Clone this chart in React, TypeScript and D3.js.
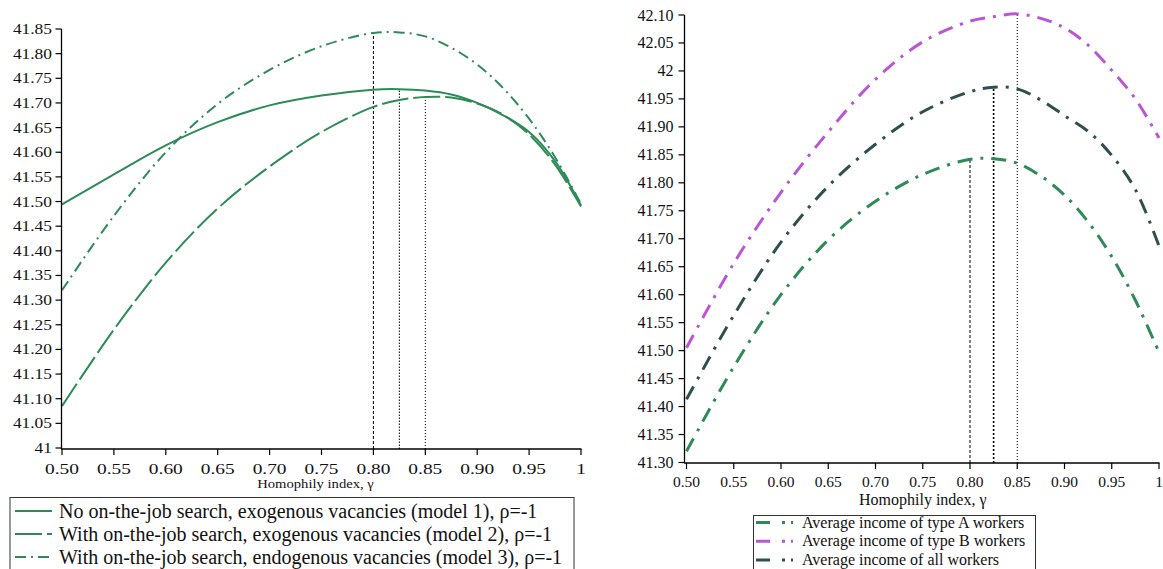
import React from 'react';
import * as d3 from 'd3';

// ---------- data ----------
const gammaGrid = [0.5, 0.55, 0.6, 0.65, 0.7, 0.75, 0.8, 0.825, 0.85, 0.875, 0.9, 0.925, 0.95, 0.975, 1.0];

// Left panel
const model1 = [41.494, 41.555, 41.614, 41.661, 41.695, 41.715, 41.727, 41.728, 41.725, 41.717, 41.700, 41.675, 41.641, 41.582, 41.492];
const model2 = [41.085, 41.240, 41.376, 41.486, 41.571, 41.641, 41.692, 41.706, 41.712, 41.711, 41.699, 41.676, 41.636, 41.575, 41.490];
const model3 = [41.320, 41.471, 41.600, 41.698, 41.767, 41.815, 41.842, 41.843, 41.835, 41.812, 41.778, 41.730, 41.668, 41.590, 41.495];

// Right panel
const incomeA = [41.320, 41.471, 41.600, 41.698, 41.767, 41.815, 41.842, 41.843, 41.835, 41.812, 41.778, 41.730, 41.668, 41.590, 41.497];
const incomeB = [41.505, 41.656, 41.783, 41.891, 41.985, 42.052, 42.089, 42.097, 42.102, 42.094, 42.077, 42.046, 42.001, 41.950, 41.880];
const incomeAll = [41.413, 41.563, 41.694, 41.794, 41.869, 41.927, 41.963, 41.971, 41.968, 41.948, 41.920, 41.892, 41.849, 41.788, 41.687];

const xTicks = [0.5, 0.55, 0.6, 0.65, 0.7, 0.75, 0.8, 0.85, 0.9, 0.95, 1];
const leftYTicks = [41, 41.05, 41.1, 41.15, 41.2, 41.25, 41.3, 41.35, 41.4, 41.45, 41.5, 41.55, 41.6, 41.65, 41.7, 41.75, 41.8, 41.85];
const rightYTicks = [41.3, 41.35, 41.4, 41.45, 41.5, 41.55, 41.6, 41.65, 41.7, 41.75, 41.8, 41.85, 41.9, 41.95, 42, 42.05, 42.1];

const axisTitle = 'Homophily index, \u03b3';
const leftLegend = [
  'No on-the-job search, exogenous vacancies (model 1), \u03c1=-1',
  'With on-the-job search, exogenous vacancies (model 2), \u03c1=-1',
  'With on-the-job search, endogenous vacancies (model 3), \u03c1=-1',
];
const rightLegend = [
  'Average income of type A workers',
  'Average income of type B workers',
  'Average income of all workers',
];

const refGammas = [0.8, 0.825, 0.85];

// ---------- styles ----------
const GREEN = '#2e8b57';
const PURPLE = '#ba55d3';
const DARK = '#2f4f4f';
const FONT = '"Liberation Serif", "Times New Roman", Times, serif';
const TS: React.CSSProperties = { fontFamily: FONT };

const fmt = (v: number) =>
  Math.abs(v - Math.round(v)) < 1e-9 ? String(Math.round(v)) : v.toFixed(2);

const valueAt = (arr: number[], g: number) => {
  const i = gammaGrid.findIndex((x) => Math.abs(x - g) < 1e-9);
  return arr[i];
};

export default function App() {
  // left scales
  const xL = d3.scaleLinear().domain([0.5, 1]).range([62, 581]);
  const yL = d3.scaleLinear().domain([41, 41.85]).range([448, 29]);
  // right scales
  const xR = d3.scaleLinear().domain([0.5, 1]).range([686.5, 1159]);
  const yR = d3.scaleLinear().domain([41.3, 42.1]).range([462.5, 15]);

  const lineL = d3
    .line<number>()
    .x((_, i) => xL(gammaGrid[i]))
    .y((d) => yL(d))
    .curve(d3.curveCatmullRom.alpha(0.5));
  const lineR = d3
    .line<number>()
    .x((_, i) => xR(gammaGrid[i]))
    .y((d) => yR(d))
    .curve(d3.curveCatmullRom.alpha(0.5));

  const leftSeries = [
    { data: model1, dash: undefined as string | undefined },
    { data: model2, dash: '27,5' },
    { data: model3, dash: '11,5,2,5' },
  ];
  const rightSeries = [
    { data: incomeA, color: GREEN },
    { data: incomeB, color: PURPLE },
    { data: incomeAll, color: DARK },
  ];

  const leftRefs = [
    { g: refGammas[0], top: valueAt(model3, refGammas[0]), dash: '3,2', w: 1 },
    { g: refGammas[1], top: valueAt(model1, refGammas[1]), dash: '1.5,1.5', w: 1 },
    { g: refGammas[2], top: valueAt(model2, refGammas[2]), dash: '1,2', w: 1 },
  ];
  const rightRefs = [
    { g: refGammas[0], top: valueAt(incomeA, refGammas[0]), dash: '3,2', w: 1 },
    { g: refGammas[1], top: valueAt(incomeAll, refGammas[1]), dash: '2,2', w: 1.6 },
    { g: refGammas[2], top: valueAt(incomeB, refGammas[2]), dash: '1,2', w: 1 },
  ];

  const LX_AXIS_Y = 449;
  const LY_AXIS_X = 61.5;
  const RX_AXIS_Y = 463;
  const RY_AXIS_X = 684.5;

  return (
    <svg
      width={1163}
      height={569}
      style={{ position: 'absolute', left: 0, top: 0, background: '#fff', fontFamily: FONT }}
    >
      <rect x={0} y={0} width={1163} height={569} fill="#fff" />

      {/* ================= LEFT PANEL ================= */}
      <g>
        {leftRefs.map((r, i) => (
          <line
            key={'lr' + i}
            x1={xL(r.g)}
            x2={xL(r.g)}
            y1={LX_AXIS_Y}
            y2={yL(r.top)}
            stroke="#000"
            strokeWidth={r.w}
            strokeDasharray={r.dash}
          />
        ))}
        {leftSeries.map((s, i) => (
          <path
            key={'ls' + i}
            d={lineL(s.data) || ''}
            fill="none"
            stroke={GREEN}
            strokeWidth={2}
            strokeDasharray={s.dash}
          />
        ))}
        <line x1={LY_AXIS_X} x2={LY_AXIS_X} y1={yL(41.85)} y2={LX_AXIS_Y + 0.5} stroke="#000" strokeWidth={1.3} />
        <line x1={LY_AXIS_X} x2={xL(1) + 0.5} y1={LX_AXIS_Y} y2={LX_AXIS_Y} stroke="#000" strokeWidth={1.3} />
        {leftYTicks.map((t) => (
          <g key={'lyt' + t}>
            <line x1={LY_AXIS_X - 6} x2={LY_AXIS_X} y1={yL(t)} y2={yL(t)} stroke="#000" strokeWidth={1.2} />
            <text
              transform={`translate(${LY_AXIS_X - 9.5},${yL(t) + 5}) scale(1.2,1)`}
              textAnchor="end"
              fontSize={14.5}
              fill="#111"
              style={TS}
            >
              {fmt(t)}
            </text>
          </g>
        ))}
        {xTicks.map((t) => (
          <g key={'lxt' + t}>
            <line x1={xL(t)} x2={xL(t)} y1={LX_AXIS_Y} y2={LX_AXIS_Y + 6} stroke="#000" strokeWidth={1.2} />
            <text
              transform={`translate(${xL(t)},${LX_AXIS_Y + 25}) scale(1.25,1)`}
              textAnchor="middle"
              fontSize={15.5}
              fill="#111"
              style={TS}
            >
              {fmt(t)}
            </text>
          </g>
        ))}
        <text
          transform={`translate(${(xL(0.5) + xL(1)) / 2 - 6},488) scale(1.22,1)`}
          textAnchor="middle"
          fontSize={12}
          fill="#111"
          style={TS}
        >
          {axisTitle}
        </text>

        {/* legend */}
        <rect x={10} y={497.5} width={564} height={90} fill="#fff" stroke="#333" strokeWidth={1} />
        {leftLegend.map((label, i) => {
          const yy = 511 + i * 23;
          return (
            <g key={'ll' + i}>
              <line
                x1={15}
                x2={52}
                y1={yy}
                y2={yy}
                stroke={GREEN}
                strokeWidth={2}
                strokeDasharray={leftSeries[i].dash}
              />
              <text x={59} y={yy + 7} fontSize={20} fill="#111" style={TS}>
                {label}
              </text>
            </g>
          );
        })}
      </g>

      {/* ================= RIGHT PANEL ================= */}
      <g>
        {rightRefs.map((r, i) => (
          <line
            key={'rr' + i}
            x1={xR(r.g)}
            x2={xR(r.g)}
            y1={RX_AXIS_Y}
            y2={yR(r.top)}
            stroke="#000"
            strokeWidth={r.w}
            strokeDasharray={r.dash}
          />
        ))}
        {rightSeries.map((s, i) => (
          <path
            key={'rs' + i}
            d={lineR(s.data) || ''}
            fill="none"
            stroke={s.color}
            strokeWidth={3}
            strokeDasharray="15,8,3,8"
          />
        ))}
        <line x1={RY_AXIS_X} x2={RY_AXIS_X} y1={yR(42.1)} y2={RX_AXIS_Y + 0.5} stroke="#000" strokeWidth={1.3} />
        <line x1={RY_AXIS_X} x2={xR(1) + 0.5} y1={RX_AXIS_Y} y2={RX_AXIS_Y} stroke="#000" strokeWidth={1.3} />
        {rightYTicks.map((t) => (
          <g key={'ryt' + t}>
            <line x1={RY_AXIS_X - 6} x2={RY_AXIS_X} y1={yR(t)} y2={yR(t)} stroke="#000" strokeWidth={1.2} />
            <text x={RY_AXIS_X - 11} y={yR(t) + 5.5} textAnchor="end" fontSize={16} fill="#111" style={TS}>
              {fmt(t)}
            </text>
          </g>
        ))}
        {xTicks.map((t) => (
          <g key={'rxt' + t}>
            <line x1={xR(t)} x2={xR(t)} y1={RX_AXIS_Y} y2={RX_AXIS_Y + 6} stroke="#000" strokeWidth={1.2} />
            <text x={xR(t)} y={RX_AXIS_Y + 24} textAnchor="middle" fontSize={15.5} fill="#111" style={TS}>
              {fmt(t)}
            </text>
          </g>
        ))}
        <text x={(xR(0.5) + xR(1)) / 2} y={505} textAnchor="middle" fontSize={16} fill="#111" style={TS}>
          {axisTitle}
        </text>

        {/* legend */}
        <rect x={753.5} y={515.5} width={282} height={80} fill="#fff" stroke="#333" strokeWidth={1} />
        {rightLegend.map((label, i) => {
          const yy = 522.5 + i * 18.8;
          return (
            <g key={'rl' + i}>
              <line
                x1={756}
                x2={794}
                y1={yy}
                y2={yy}
                stroke={rightSeries[i].color}
                strokeWidth={3}
                strokeDasharray="14,12,3,6,2"
              />
              <text x={802} y={yy + 5} fontSize={16} fill="#111" style={TS}>
                {label}
              </text>
            </g>
          );
        })}
      </g>
    </svg>
  );
}
